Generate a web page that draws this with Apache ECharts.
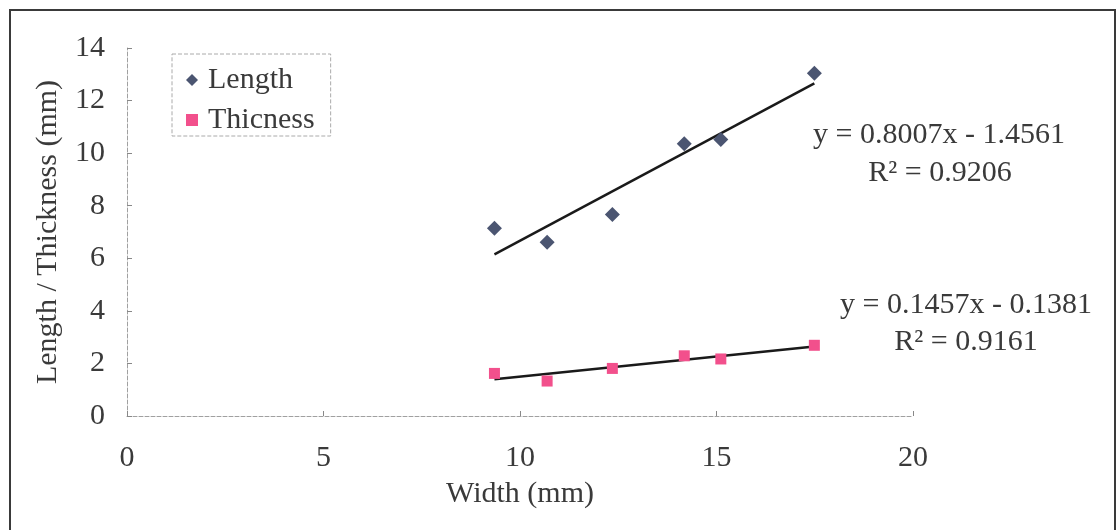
<!DOCTYPE html>
<html>
<head>
<meta charset="utf-8">
<script src="https://cdn.jsdelivr.net/npm/echarts@6/dist/echarts.min.js"></script>
<style>
  html, body { margin: 0; padding: 0; background: #fff; }
  #chart { width: 1120px; height: 530px; }
</style>
</head>
<body>
<div id="chart"></div>
<script>
// ---- data ----
const widths = [9.35, 10.69, 12.35, 14.18, 15.11, 17.49];
const lengths = [7.14, 6.61, 7.67, 10.36, 10.52, 13.04];
const thicknesses = [1.62, 1.33, 1.81, 2.29, 2.17, 2.69];
const seriesNames = ['Length', 'Thicness'];
const xAxisTitle = 'Width (mm)';
const yAxisTitle = 'Length / Thickness (mm)';
const lengthEquation = ['y = 0.8007x - 1.4561', 'R² = 0.9206'];
const thicknessEquation = ['y = 0.1457x - 0.1381', 'R² = 0.9161'];

const FONT = '"Liberation Serif", "Times New Roman", serif';
const TEXT = '#3a3a3a';

function pairs(xs, ys) { return xs.map((x, i) => [x, ys[i]]); }
function fitLine(xs, ys) {
  const n = xs.length;
  const mx = xs.reduce((a, b) => a + b, 0) / n;
  const my = ys.reduce((a, b) => a + b, 0) / n;
  let sxy = 0, sxx = 0;
  for (let i = 0; i < n; i++) { sxy += (xs[i] - mx) * (ys[i] - my); sxx += (xs[i] - mx) ** 2; }
  const b = sxy / sxx, a = my - b * mx;
  const x0 = Math.min(...xs), x1 = Math.max(...xs);
  return [[x0, a + b * x0], [x1, a + b * x1]];
}

const chart = echarts.init(document.getElementById('chart'), null, { renderer: 'canvas' });

function eqText(x, y, s) {
  return { type: 'text', x: x, y: y, silent: true,
    style: { text: s, font: '30px ' + FONT, fill: TEXT, textAlign: 'center', textVerticalAlign: 'middle' } };
}

const option = {
  backgroundColor: '#fff',
  animation: false,
  grid: { left: 127, top: 48, right: 207, bottom: 114, containLabel: false },
  legend: {
    orient: 'vertical',
    left: 172, top: 54,
    padding: [11, 16, 1, 14],
    itemWidth: 12, itemHeight: 12, itemGap: 10,
    borderColor: '#aaa', borderWidth: 1, borderType: 'dashed',
    textStyle: { fontFamily: FONT, fontSize: 30, color: TEXT, lineHeight: 28, padding: [0, 0, 0, 5] },
    data: [{ name: seriesNames[0], icon: 'diamond' }, { name: seriesNames[1], icon: 'rect' }]
  },
  xAxis: {
    type: 'value', min: 0, max: 20, interval: 5,
    name: xAxisTitle, nameLocation: 'middle', nameGap: 63,
    nameTextStyle: { fontFamily: FONT, fontSize: 30, color: TEXT },
    axisLine: { show: true, lineStyle: { color: '#a0a0a0', width: 1, type: 'dashed' } },
    axisTick: { show: true, inside: true, length: 5, lineStyle: { color: '#888' } },
    axisLabel: { fontFamily: FONT, fontSize: 30, color: TEXT, margin: 27 },
    splitLine: { show: false }
  },
  yAxis: {
    type: 'value', min: 0, max: 14, interval: 2,
    name: yAxisTitle, nameLocation: 'middle', nameGap: 64,
    nameTextStyle: { fontFamily: FONT, fontSize: 30, color: TEXT },
    axisLine: { show: true, lineStyle: { color: '#a0a0a0', width: 1, type: 'dashed' } },
    axisTick: { show: true, inside: true, length: 5, lineStyle: { color: '#888' } },
    axisLabel: { fontFamily: FONT, fontSize: 30, color: TEXT, margin: 22 },
    splitLine: { show: false }
  },
  series: [
    { name: seriesNames[0] + ' trend', type: 'line', data: fitLine(widths, lengths), symbol: 'none',
      lineStyle: { color: '#1a1a1a', width: 2.5 }, z: 2, silent: true },
    { name: seriesNames[1] + ' trend', type: 'line', data: fitLine(widths, thicknesses), symbol: 'none',
      lineStyle: { color: '#1a1a1a', width: 2.5 }, z: 2, silent: true },
    { name: seriesNames[0], type: 'scatter', data: pairs(widths, lengths), symbol: 'diamond', symbolSize: 15,
      itemStyle: { color: '#4b5571', opacity: 1 }, z: 3 },
    { name: seriesNames[1], type: 'scatter', data: pairs(widths, thicknesses), symbol: 'rect', symbolSize: 11,
      itemStyle: { color: '#f2508c', opacity: 1 }, z: 3 }
  ],
  graphic: [
    { type: 'polyline', silent: true, shape: { points: [[10, 540], [10, 10], [1115, 10], [1115, 540]] },
      style: { stroke: '#3a3a3a', lineWidth: 2, fill: null } },
    eqText(939, 135, lengthEquation[0]),
    eqText(940, 173, lengthEquation[1]),
    eqText(966, 305, thicknessEquation[0]),
    eqText(966, 342, thicknessEquation[1])
  ]
};
chart.setOption(option);
</script>
</body>
</html>
